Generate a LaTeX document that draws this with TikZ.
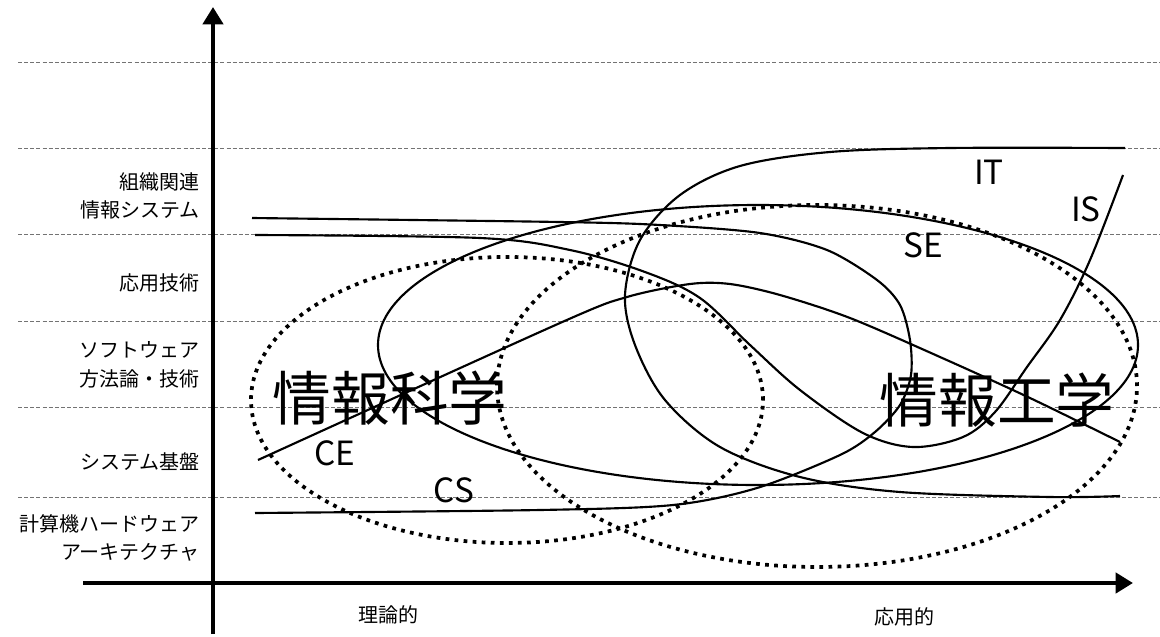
\documentclass[tikz,border=0pt]{standalone}
\usepackage{fontspec}
\setmainfont{Noto Sans CJK JP}
\usetikzlibrary{arrows.meta}

\begin{document}
\begin{tikzpicture}[x=0.75pt,y=-0.75pt,
    axis/.style={line width=3.2pt,-{Triangle[length=13pt,width=15pt]}},
    guide/.style={black!55,line width=0.7pt,dash pattern=on 3pt off 1.6pt},
    curve/.style={line width=1.6pt},
    field/.style={line width=2.8pt,dash pattern=on 2.8pt off 4pt},
    layer/.style={anchor=east,align=right,inner sep=0pt,font=\fontsize{15}{21.5}\selectfont},
    tag/.style={inner sep=0pt,font=\fontsize{25}{30}\selectfont},
    big/.style={inner sep=0pt,font=\fontsize{44}{50}\selectfont}]
  \useasboundingbox (0,0) rectangle (1160,636);

  \foreach \lv in {62,148,234,321,407,497}
    \draw[guide] (18,\lv) -- (1160,\lv);

  \coordinate (ybot) at (213,634);
  \coordinate (ytop) at (213,7);
  \coordinate (xleft) at (83,583);
  \coordinate (xright) at (1133,583);
  \draw[axis] (ybot) -- (ytop);
  \draw[axis] (xleft) -- (xright);

  \node[layer] (org) at (200,196) {組織関連\\情報システム};
  \node[layer] (app) at (200,283) {応用技術};
  \node[layer] (sw)  at (200,365) {ソフトウェア\\方法論・技術};
  \node[layer] (sys) at (200,462) {システム基盤};
  \node[layer] (hw)  at (200,538) {計算機ハードウェア\\アーキテクチャ};
  \node[inner sep=0pt,font=\fontsize{15}{18}\selectfont] (theory)  at (388,615) {理論的};
  \node[inner sep=0pt,font=\fontsize{15}{18}\selectfont] (applied) at (904,617) {応用的};

  \draw[field] (507,400) ellipse [x radius=192pt, y radius=107.25pt];
  \draw[field] (817,386) ellipse [x radius=240pt, y radius=135.75pt];
  \draw[curve] (758,345) ellipse [x radius=285pt, y radius=105pt];

  \draw[curve] plot[smooth,tension=0.5] coordinates {(258,460) (560,323) (627,297) (690,284)
    (730,284) (780,295) (850,318) (940,357) (1030,398) (1120,442)};
  \draw[curve] plot[smooth,tension=0.5] coordinates {(255,513) (540,510) (673,505) (757,488)
    (840,455) (875,432) (900,405) (911,375) (910,340) (900,305) (877,280) (827,250)
    (760,233) (660,225) (560,222) (252,218)};
  \draw[curve] plot[smooth,tension=0.55] coordinates {(255,235) (480,238) (570,250)
    (645,272) (700,298) (750,345) (800,390) (863,433) (913,447) (963,437)
    (995,412) (1027,367) (1060,320) (1090,260) (1123,175)};
  \draw[curve] plot[smooth,tension=0.55] coordinates {(1125,148) (950,148) (830,152)
    (740,166) (680,195) (640,240) (625,295) (635,345) (665,400) (720,447) (800,477)
    (900,492) (1050,497) (1120,496)};

  \node[big] (cs-big) at (390,398) {情報科学};
  \node[big] (ce-big) at (997,400) {情報工学};
  \node[tag] (ce) at (335,453) {CE};
  \node[tag] (cs) at (454,490) {CS};
  \node[tag] (it) at (989,172) {IT};
  \node[tag] (is) at (1086,209) {IS};
  \node[tag] (se) at (923,245) {SE};
\end{tikzpicture}
\end{document}
